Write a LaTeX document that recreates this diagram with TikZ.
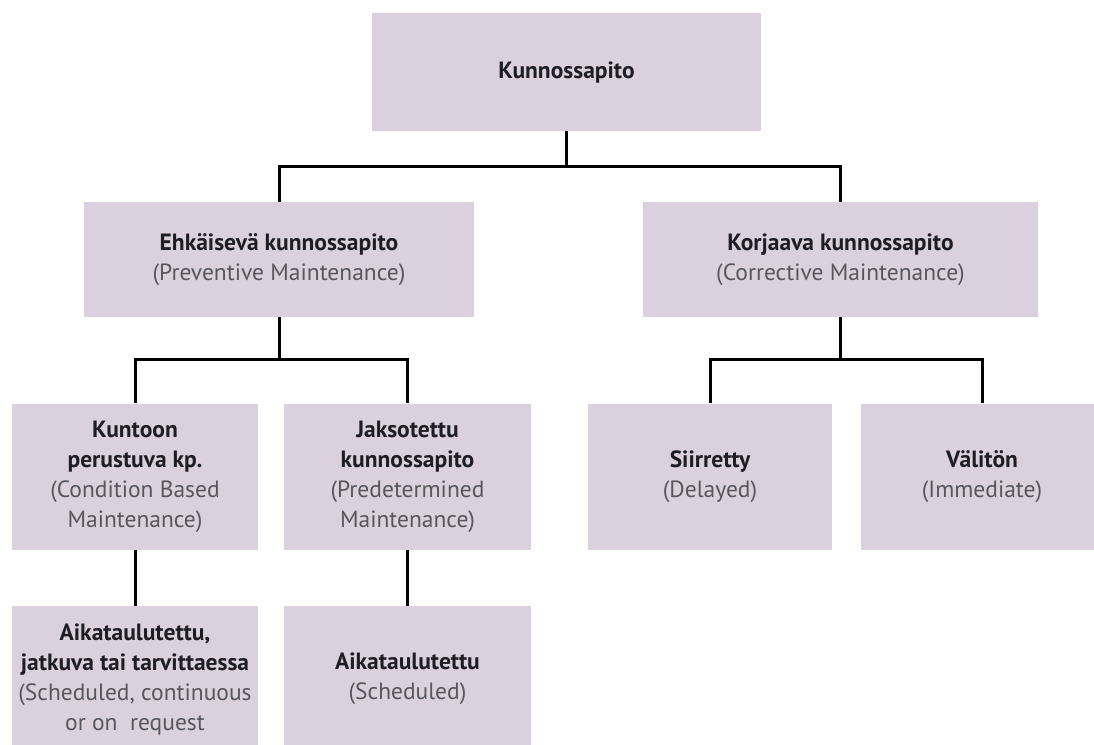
\documentclass[tikz,border=0pt]{standalone}
\usepackage{fontspec}
\setmainfont{PT Sans}
\definecolor{boxfill}{RGB}{219,209,222}
\definecolor{titlecol}{RGB}{30,28,36}
\definecolor{subcol}{RGB}{88,86,92}
\newcommand{\ttl}[1]{{\bfseries\color{titlecol}#1}}
\newcommand{\sbt}[1]{{\color{subcol}#1}}
\begin{document}
\begin{tikzpicture}[x=1pt,y=-1pt,
  box/.style={fill=boxfill, inner sep=0pt, align=center, minimum height=#1,
    font=\fontsize{23.5}{30}\selectfont},
  box/.default=146pt,
  conn/.style={line width=3pt, black}]
\useasboundingbox (0,0) rectangle (1094,744);
\clip (0,0) rectangle (1094,744);
\fill[white] (0,0) rectangle (1094,744);
% nodes
\node[box=118pt, minimum width=389pt] (top) at (566.5,72) {\ttl{Kunnossapito}};
\node[box=115pt, minimum width=390pt] (ehk) at (279,259.5) {\ttl{Ehkäisevä kunnossapito}\\\sbt{(Preventive Maintenance)}};
\node[box=115pt, minimum width=395pt] (kor) at (840.5,259.5) {\ttl{Korjaava kunnossapito}\\\sbt{(Corrective Maintenance)}};
\node[box, minimum width=246pt] (kun) at (135,476.5) {\ttl{Kuntoon}\\\ttl{perustuva kp.}\\\sbt{(Condition Based}\\\sbt{Maintenance)}};
\node[box, minimum width=247pt] (jak) at (407.5,476.5) {\ttl{Jaksotettu}\\\ttl{kunnossapito}\\\sbt{(Predetermined}\\\sbt{Maintenance)}};
\node[box, minimum width=244pt] (sii) at (710,476.5) {\ttl{Siirretty}\\\sbt{(Delayed)}};
\node[box, minimum width=242pt] (val) at (982,476.5) {\ttl{Välitön}\\\sbt{(Immediate)}};
\node[box, minimum width=246pt] (aik1) at (135,679) {\ttl{Aikataulutettu,}\\\ttl{jatkuva tai tarvittaessa}\\\sbt{(Scheduled, continuous}\\\sbt{or on\ \ request}};
\node[box, minimum width=247pt] (aik2) at (407.5,679) {\ttl{Aikataulutettu}\\\sbt{(Scheduled)}};
% connectors
\coordinate (j1) at (566.5,166);
\coordinate (j2) at (279,359);
\coordinate (j3) at (840.5,359);
\draw[conn] (top.south) -- (j1);
\draw[conn] (ehk.north) |- (j1) -| (kor.north);
\draw[conn] (ehk.south) -- (j2);
\draw[conn] (kun.north) |- (j2) -| (jak.north);
\draw[conn] (kor.south) -- (j3);
\draw[conn] (sii.north) |- (j3) -| (val.north);
\draw[conn] (kun.south) -- (aik1.north);
\draw[conn] (jak.south) -- (aik2.north);
\end{tikzpicture}
\end{document}
